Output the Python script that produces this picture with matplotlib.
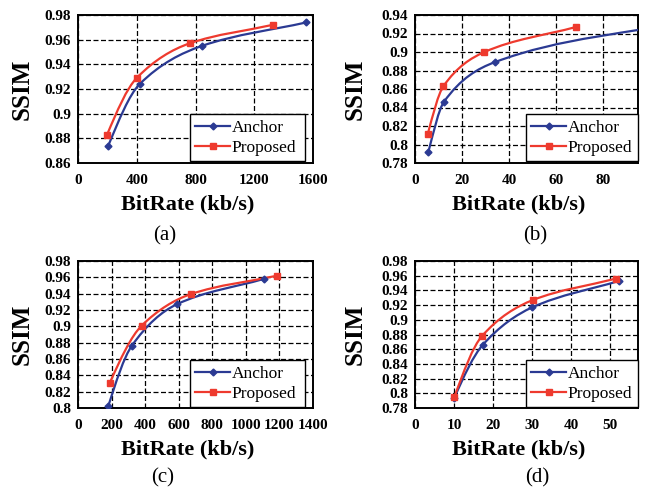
import numpy as np
import matplotlib.pyplot as plt
from matplotlib.path import Path
from matplotlib.patches import PathPatch
from matplotlib.lines import Line2D
from matplotlib.ticker import FormatStrFormatter

plt.rcParams['font.family'] = ['Liberation Serif', 'DejaVu Serif']

# ========================================
# data (SSIM vs bitrate)
# ========================================

# (a)
a_anchor_x = [206, 420, 845, 1555]
a_anchor_y = [0.874, 0.924, 0.955, 0.974]
a_prop_x = [198, 400, 760, 1325]
a_prop_y = [0.883, 0.929, 0.957, 0.972]

# (b) - last anchor point lies past the right edge
b_anchor_x = [5.7, 12.3, 34.0, 120]
b_anchor_y = [0.792, 0.846, 0.889, 0.935]
b_prop_x = [5.4, 12.1, 29.6, 68.5]
b_prop_y = [0.811, 0.863, 0.900, 0.927]

# (c)
c_anchor_x = [180, 320, 589, 1106]
c_anchor_y = [0.802, 0.876, 0.927, 0.958]
c_prop_x = [190, 380, 673, 1186]
c_prop_y = [0.831, 0.901, 0.9395, 0.962]

# (d)
d_anchor_x = [10.1, 17.4, 30.1, 52.4]
d_anchor_y = [0.794, 0.866, 0.917, 0.953]
d_prop_x = [10.1, 17.2, 30.3, 51.5]
d_prop_y = [0.795, 0.878, 0.927, 0.956]

series_names = ['Anchor', 'Proposed']
panel_tags = ['(a)', '(b)', '(c)', '(d)']

blue = '#2B3A93'
red = '#EE3A2E'

W, H = 646, 491


def smooth_path(xs, ys):
    # monotone cubic drawn as bezier segments through the points
    x = np.asarray(xs, float)
    y = np.asarray(ys, float)
    h = np.diff(x)
    d = np.diff(y) / h
    n = len(x)
    m = np.zeros(n)
    for i in range(1, n - 1):
        if d[i - 1] * d[i] > 0:
            w1 = 2 * h[i] + h[i - 1]
            w2 = h[i] + 2 * h[i - 1]
            m[i] = (w1 + w2) / (w1 / d[i - 1] + w2 / d[i])
    # start: three point estimate, end: plain secant
    m0 = ((2 * h[0] + h[1]) * d[0] - h[0] * d[1]) / (h[0] + h[1])
    if np.sign(m0) != np.sign(d[0]):
        m0 = 0
    elif np.sign(d[0]) != np.sign(d[1]) and abs(m0) > 3 * abs(d[0]):
        m0 = 3 * d[0]
    m[0] = m0
    m[-1] = d[-1]
    verts = [(x[0], y[0])]
    codes = [Path.MOVETO]
    for i in range(n - 1):
        verts += [(x[i] + h[i] / 3, y[i] + m[i] * h[i] / 3),
                  (x[i + 1] - h[i] / 3, y[i + 1] - m[i + 1] * h[i] / 3),
                  (x[i + 1], y[i + 1])]
        codes += [Path.CURVE4] * 3
    return Path(verts, codes)


def px_rect(left, top, right, bottom):
    return [left / W, 1 - bottom / H, (right - left) / W, (bottom - top) / H]


def panel(fig, box, ax_x, ax_y, pr_x, pr_y, xlim, xticks, ylim, yticks,
          leg_box, ylab_x):
    ax = fig.add_axes(px_rect(*box))

    ax.add_patch(PathPatch(smooth_path(ax_x, ax_y), facecolor='none',
                           edgecolor=blue, lw=1.6, zorder=3))
    ax.plot(ax_x, ax_y, linestyle='none', marker='D', markersize=3.5,
            color=blue, zorder=4)
    ax.add_patch(PathPatch(smooth_path(pr_x, pr_y), facecolor='none',
                           edgecolor=red, lw=1.6, zorder=3))
    ax.plot(pr_x, pr_y, linestyle='none', marker='s', markersize=4.8,
            color=red, zorder=5)

    ax.set_xlim(*xlim)
    ax.set_ylim(*ylim)
    ax.set_xticks(xticks)
    ax.set_yticks(yticks)
    ax.yaxis.set_major_formatter(FormatStrFormatter('%g'))
    ax.tick_params(length=0, labelsize=11, pad=5)
    ax.tick_params(axis='x', pad=8)
    for lab in ax.get_xticklabels() + ax.get_yticklabels():
        lab.set_fontweight('bold')

    ax.grid(True, color='black', linestyle=(0, (4, 2)), lw=0.9)
    for sp in ax.spines.values():
        sp.set_linewidth(1.4)

    ax.set_ylabel('SSIM', fontsize=18, fontweight='bold')
    ax.yaxis.set_label_coords(ylab_x, 0.5)

    handles = [Line2D([], [], color=blue, marker='D', markersize=3.5, lw=1.6),
               Line2D([], [], color=red, marker='s', markersize=4.8, lw=1.6)]
    leg = ax.legend(handles, series_names, loc='lower left', mode='expand',
                    bbox_to_anchor=px_rect(*leg_box),
                    bbox_transform=fig.transFigure, borderaxespad=0,
                    fontsize=12.5, handlelength=2.0, handletextpad=0.1,
                    labelspacing=0.22, borderpad=0.3, fancybox=False,
                    framealpha=1, edgecolor='black')
    leg.get_frame().set_linewidth(1.0)

    # x label below the axes
    l, t, r, b = box
    fig.text((l + r) / 2 / W - 0.012, 1 - (b + 41) / H, 'BitRate (kb/s)',
             ha='center', va='center', fontsize=16, fontweight='bold')
    return ax


fig = plt.figure(figsize=(W / 100, H / 100), dpi=100)

panel(fig, (78, 15, 313, 163), a_anchor_x, a_anchor_y, a_prop_x, a_prop_y,
      (0, 1600), [0, 400, 800, 1200, 1600], (0.86, 0.98),
      np.arange(0.86, 0.9801, 0.02), (190, 117, 305, 161), -0.19)
panel(fig, (415, 15, 638, 163), b_anchor_x, b_anchor_y, b_prop_x, b_prop_y,
      (0, 95), [0, 20, 40, 60, 80], (0.78, 0.94),
      np.arange(0.78, 0.9401, 0.02), (526, 117, 638, 161), -0.215)
panel(fig, (78, 261, 313, 408), c_anchor_x, c_anchor_y, c_prop_x, c_prop_y,
      (0, 1400), np.arange(0, 1401, 200), (0.8, 0.98),
      np.arange(0.8, 0.9801, 0.02), (190, 362, 305, 407), -0.19)
panel(fig, (415, 261, 638, 408), d_anchor_x, d_anchor_y, d_prop_x, d_prop_y,
      (0, 57.2), [0, 10, 20, 30, 40, 50], (0.78, 0.98),
      np.arange(0.78, 0.9801, 0.02), (526, 362, 638, 407), -0.215)

# panel tags
tag_pos = [(165, 236), (535, 236), (163, 478), (537, 478)]
for tag, (tx, ty) in zip(panel_tags, tag_pos):
    fig.text(tx / W, 1 - ty / H, tag, ha='center', va='center', fontsize=15)

fig.savefig('out.png', dpi=100)
